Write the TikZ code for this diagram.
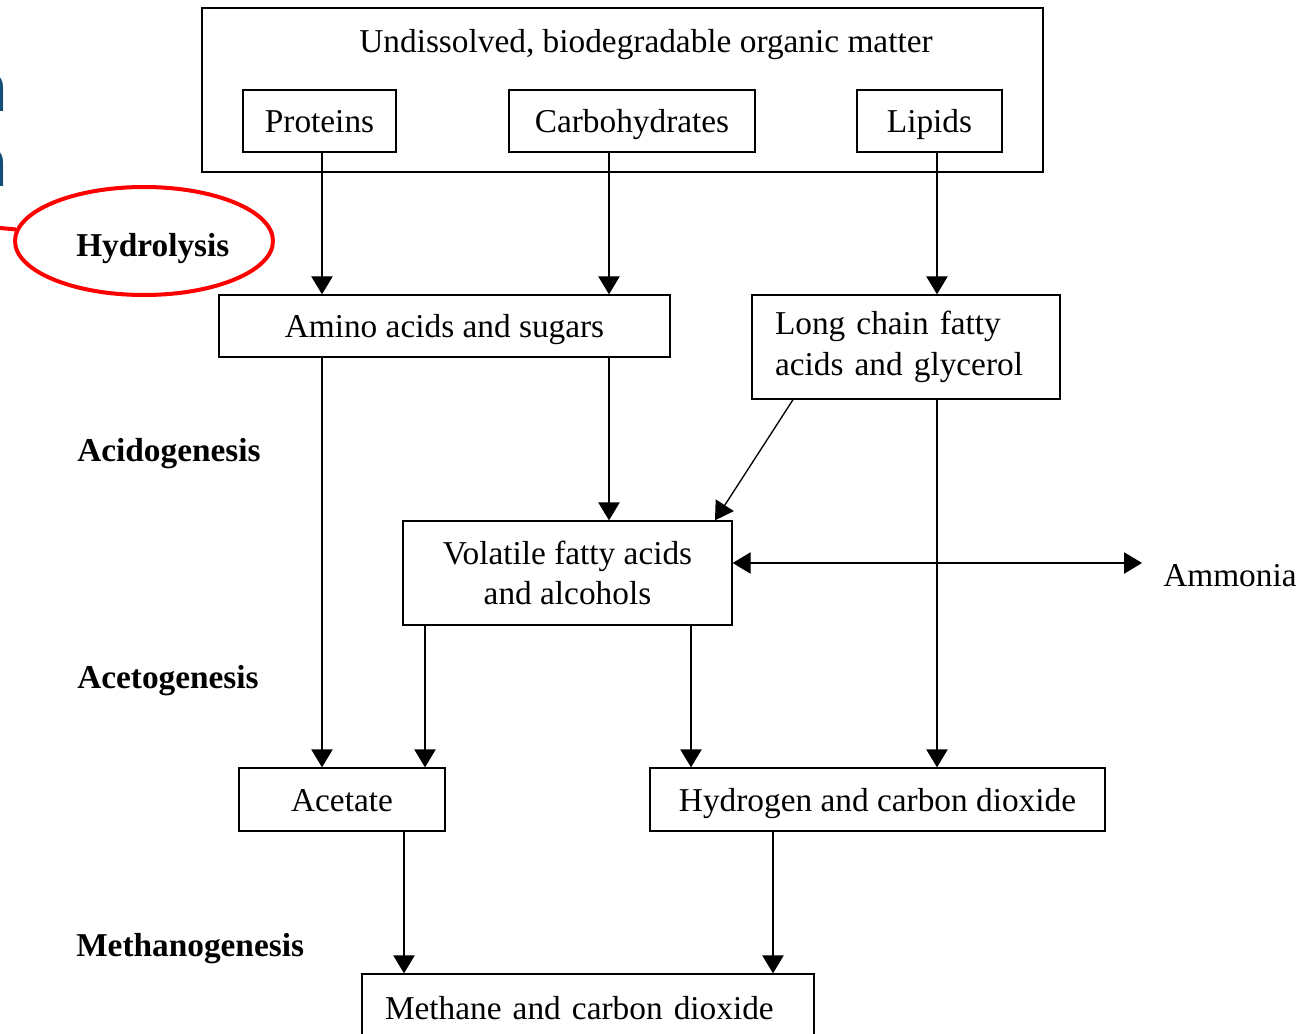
\documentclass[tikz,border=0pt]{standalone}
\usepackage{fontspec}
\setmainfont{Liberation Serif}
\setsansfont{Liberation Sans}
\usetikzlibrary{arrows.meta,shapes.geometric}
\definecolor{titleblue}{RGB}{20,78,118}
\tikzset{
	line1/.style = {text height=20pt, text depth=2pt},
	box/.style = {draw, line width=1pt, inner sep=0pt, minimum height=46.5pt},
	arr/.style = {line width=1pt, -{Triangle[length=13.5pt,width=16pt]}},
	arrs/.style = {line width=1pt, {Triangle[length=13.5pt,width=16pt]}-{Triangle[length=13.5pt,width=16pt]}},
	phase/.style = {line1, anchor=west, inner sep=0pt, font=\fontsize{25}{30.5}\selectfont\bfseries}
}
\begin{document}
\begin{tikzpicture}[x = .75pt, y = -.75pt, font=\fontsize{25}{30.5}\selectfont]
		\useasboundingbox (0,0) rectangle (1315,1034);
		\clip (0,0) rectangle (1315,1034);
		
		\node (n1) at (8,112) [anchor=base east, inner sep=0pt, text=titleblue, font=\fontsize{52}{52}\selectfont\sffamily\bfseries] {n};
		\node (n2) at (8,187) [anchor=base east, inner sep=0pt, text=titleblue, font=\fontsize{52}{52}\selectfont\sffamily\bfseries] {n};
		
		\node (Org) at (622.5,90) [box, minimum width=630.75pt, minimum height=123pt] {};
		\node (OrgT) at (646,41) [line1] {Undissolved, biodegradable organic matter};
		\node (Prot) at (319.5,121) [box, line1, minimum width=114.75pt] {Proteins};
		\node (Carb) at (632,121) [box, line1, minimum width=184.5pt] {Carbohydrates};
		\node (Lip) at (929.5,121) [box, line1, minimum width=108.75pt] {Lipids};
		
		\node (Amino) at (444.5,326) [box, line1, minimum width=338.25pt] {Amino acids and sugars};
		\node (LCFA) at (906,347) [box, minimum width=231pt, minimum height=78pt, text width=196.5pt, align=left] {Long chain fatty\\acids and glycerol};
		\node (VFA) at (567.5,573) [box, minimum width=246.75pt, minimum height=78pt, align=center] {Volatile fatty acids\\and alcohols};
		\node (Amm) at (1163,574) [line1, anchor=west, inner sep=0pt] {Ammonia};
		\node (Acet) at (342,799.5) [box, line1, minimum width=154.5pt, minimum height=47.25pt] {Acetate};
		\node (HCO) at (877.5,799.5) [box, line1, minimum width=341.25pt, minimum height=47.25pt] {Hydrogen and carbon dioxide};
		\node (Meth) at (588,1007) [box, line1, minimum width=339pt, minimum height=49.5pt, text width=304.5pt, align=left] {Methane and carbon dioxide};
		
		\node (Hyd) at (76,245) [phase] {Hydrolysis};
		\node (Acid) at (77,449) [phase] {Acidogenesis};
		\node (Acet2) at (77,676) [phase] {Acetogenesis};
		\node (Methan) at (76,944) [phase] {Methanogenesis};
		\node (Ring) at (144,241) [draw=red, line width=3pt, ellipse, minimum width=193.5pt, minimum height=81pt] {};
		\coordinate (RingEnd) at (0,228);
		\draw [red, line width=3pt] (RingEnd) -- (Ring);
		
		% columns of the arrows
		\coordinate (c1) at (322,0);
		\coordinate (c2) at (609,0);
		\coordinate (c3) at (937,0);
		\coordinate (c4) at (425,0);
		\coordinate (c5) at (691,0);
		\coordinate (c6) at (404,0);
		\coordinate (c7) at (773,0);
		\coordinate (d1) at (793,0);
		\coordinate (d2) at (715,0);
		\coordinate (AmmEnd) at (1142,563);
		
		\draw [arr] (Prot.south -| c1) -- (Amino.north -| c1);
		\draw [arr] (Carb.south -| c2) -- (Amino.north -| c2);
		\draw [arr] (Lip.south -| c3) -- (LCFA.north -| c3);
		
		\draw [arr] (Amino.south -| c1) -- (Acet.north -| c1);
		\draw [arr] (Amino.south -| c2) -- (VFA.north -| c2);
		\draw [arr] (LCFA.south -| d1) -- (VFA.north -| d2);
		\draw [arr] (LCFA.south -| c3) -- (HCO.north -| c3);
		\draw [arrs] (VFA.east |- AmmEnd) -- (AmmEnd);
		
		\draw [arr] (VFA.south -| c4) -- (Acet.north -| c4);
		\draw [arr] (VFA.south -| c5) -- (HCO.north -| c5);
		\draw [arr] (Acet.south -| c6) -- (Meth.north -| c6);
		\draw [arr] (HCO.south -| c7) -- (Meth.north -| c7);
		\end{tikzpicture}
\end{document}
